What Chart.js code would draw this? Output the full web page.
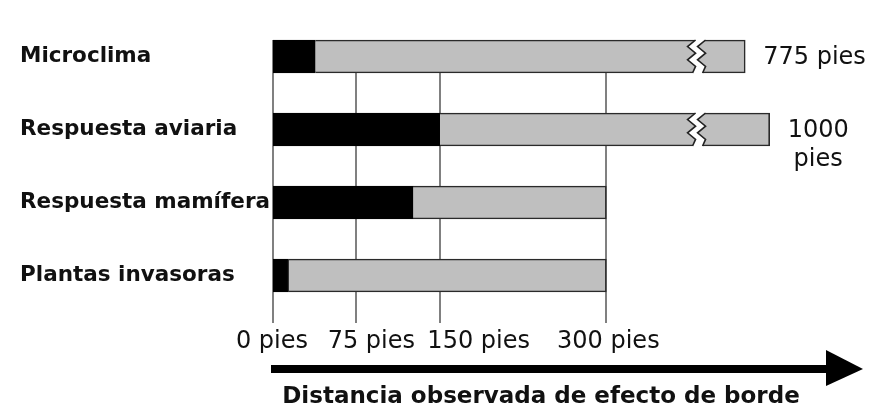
<!DOCTYPE html>
<html>
<head>
<meta charset="utf-8">
<script src="https://cdn.jsdelivr.net/npm/chart.js@4"></script>
<style>
  html, body { margin: 0; padding: 0; background: #fff; }
  #wrap { width: 874px; height: 415px; position: relative; }
</style>
</head>
<body>
<div id="wrap"><canvas id="c" width="874" height="415"></canvas></div>
<script>
// ---- data ----
const categories = ["Microclima", "Respuesta aviaria", "Respuesta mamífera", "Plantas invasoras"];
const minDistance = [38, 150, 126, 14];          // black segment end (pies)
const maxDistance = [775, 1000, 300, 300];        // real maximum distance (pies)
const brokenAxisEnd = [425, 447, 300, 300];       // where the bar ends on the broken axis
const endLabels = [["775 pies"], ["1000", "pies"], [], []];
const xTickValues = [0, 75, 150, 300];
const tickSuffix = " pies";
const axisTitle = "Distancia observada de efecto de borde";
const BREAK_VALUE = 383;                          // axis value where the break mark sits

const grayRemainder = brokenAxisEnd.map((e, i) => e - minDistance[i]);

// layout-only: horizontal nudge of each tick label relative to its tick (px)
const tickLabelNudge = { 0: -1, 75: 15, 150: 39, 300: 2 };

const FONT = "'DejaVu Sans', sans-serif";

const decorPlugin = {
  id: 'decor',
  beforeDatasetsDraw(chart) {
    const ctx = chart.ctx, xs = chart.scales.x, area = chart.chartArea;
    const first = chart.getDatasetMeta(1).data[0];
    const top = first.y - first.height / 2;
    ctx.save();
    ctx.strokeStyle = '#808080';
    ctx.lineWidth = 2;
    xTickValues.forEach(v => {
      const x = Math.round(xs.getPixelForValue(v));
      ctx.beginPath();
      ctx.moveTo(x, top);
      ctx.lineTo(x, area.bottom + 11);
      ctx.stroke();
    });
    ctx.restore();
  },
  afterDatasetsDraw(chart) {
    const ctx = chart.ctx, xs = chart.scales.x;
    const meta = chart.getDatasetMeta(1);
    ctx.save();
    // axis breaks
    meta.data.forEach((bar, i) => {
      if (maxDistance[i] <= 300) return;
      const c = xs.getPixelForValue(BREAK_VALUE);
      const t = bar.y - bar.height / 2, b = bar.y + bar.height / 2;
      const h = b - t;
      const fr = [0, 0.2, 0.4, 0.6, 0.8, 1];
      const left = [-3, -11, -3, -11, -3, -6];
      const right = left.map(v => v + 10);
      const L = fr.map((f, k) => [c + left[k], t + f * h]);
      const R = fr.map((f, k) => [c + right[k], t + f * h]);
      ctx.fillStyle = '#fff';
      ctx.beginPath();
      ctx.moveTo(L[0][0], t - 3);
      L.forEach(p => ctx.lineTo(p[0], p[1]));
      ctx.lineTo(L[5][0], b + 3);
      ctx.lineTo(R[5][0], b + 3);
      for (let k = 5; k >= 0; k--) ctx.lineTo(R[k][0], R[k][1]);
      ctx.lineTo(R[0][0], t - 3);
      ctx.closePath();
      ctx.fill();
      ctx.strokeStyle = '#222';
      ctx.lineWidth = 1.6;
      [L, R].forEach(P => {
        ctx.beginPath();
        P.forEach((p, k) => k ? ctx.lineTo(p[0], p[1]) : ctx.moveTo(p[0], p[1]));
        ctx.stroke();
      });
    });
    // end labels
    ctx.fillStyle = '#111';
    ctx.font = `24px ${FONT}`;
    ctx.textBaseline = 'middle';
    meta.data.forEach((bar, i) => {
      const lines = endLabels[i];
      if (!lines.length) return;
      const x0 = bar.x + 18;
      const w = Math.max(...lines.map(s => ctx.measureText(s).width));
      lines.forEach((s, k) => {
        ctx.textAlign = lines.length > 1 ? 'center' : 'left';
        const x = lines.length > 1 ? x0 + w / 2 : x0;
        ctx.fillText(s, x, bar.y + 1 + k * 29);
      });
    });
    ctx.restore();
  },
  afterDraw(chart) {
    const ctx = chart.ctx, xs = chart.scales.x, area = chart.chartArea;
    ctx.save();
    // tick labels
    ctx.fillStyle = '#111';
    ctx.font = `24px ${FONT}`;
    ctx.textAlign = 'center';
    ctx.textBaseline = 'middle';
    xTickValues.forEach(v => {
      ctx.fillText(v + tickSuffix, xs.getPixelForValue(v) + (tickLabelNudge[v] || 0), area.bottom + 30);
    });
    // arrow
    const x0 = xs.getPixelForValue(0) - 2;
    const y = 369;
    ctx.fillStyle = '#000';
    ctx.fillRect(x0, y - 4, 828 - x0, 8);
    ctx.beginPath();
    ctx.moveTo(826, 350);
    ctx.lineTo(863, y);
    ctx.lineTo(826, 386);
    ctx.closePath();
    ctx.fill();
    // axis title
    ctx.fillStyle = '#111';
    ctx.font = `bold 23px ${FONT}`;
    ctx.textAlign = 'center';
    ctx.textBaseline = 'alphabetic';
    ctx.fillText(axisTitle, 541, 403);
    ctx.restore();
  }
};

new Chart(document.getElementById('c'), {
  type: 'bar',
  data: {
    labels: categories,
    datasets: [
      { label: 'min', data: minDistance, backgroundColor: '#000', borderColor: '#000',
        borderWidth: 1, borderSkipped: false },
      { label: 'max', data: grayRemainder, backgroundColor: '#bfbfbf', borderColor: '#2a2a2a',
        borderWidth: { top: 1.6, bottom: 1.6, right: 1.6, left: 0 }, borderSkipped: false }
    ]
  },
  options: {
    indexAxis: 'y',
    responsive: false,
    animation: false,
    devicePixelRatio: 1,
    layout: { padding: { left: 20, right: 1, top: 20, bottom: 0 } },
    plugins: { legend: { display: false }, tooltip: { enabled: false } },
    datasets: { bar: { barThickness: 33 } },
    scales: {
      x: {
        type: 'linear', stacked: true, min: 0, max: 540,
        afterBuildTicks: s => { s.ticks = xTickValues.map(v => ({ value: v })); },
        afterFit: s => { s.height = 103; },
        grid: { display: false, drawTicks: false },
        border: { display: false },
        ticks: { display: false }
      },
      y: {
        stacked: true,
        afterFit: s => { s.width = 253; },
        grid: { display: false, drawTicks: false },
        border: { display: false },
        ticks: {
          crossAlign: 'far', color: '#111', autoSkip: false,
          font: { family: FONT, size: 21.5, weight: 'bold' }
        }
      }
    }
  },
  plugins: [decorPlugin]
});
</script>
</body>
</html>
